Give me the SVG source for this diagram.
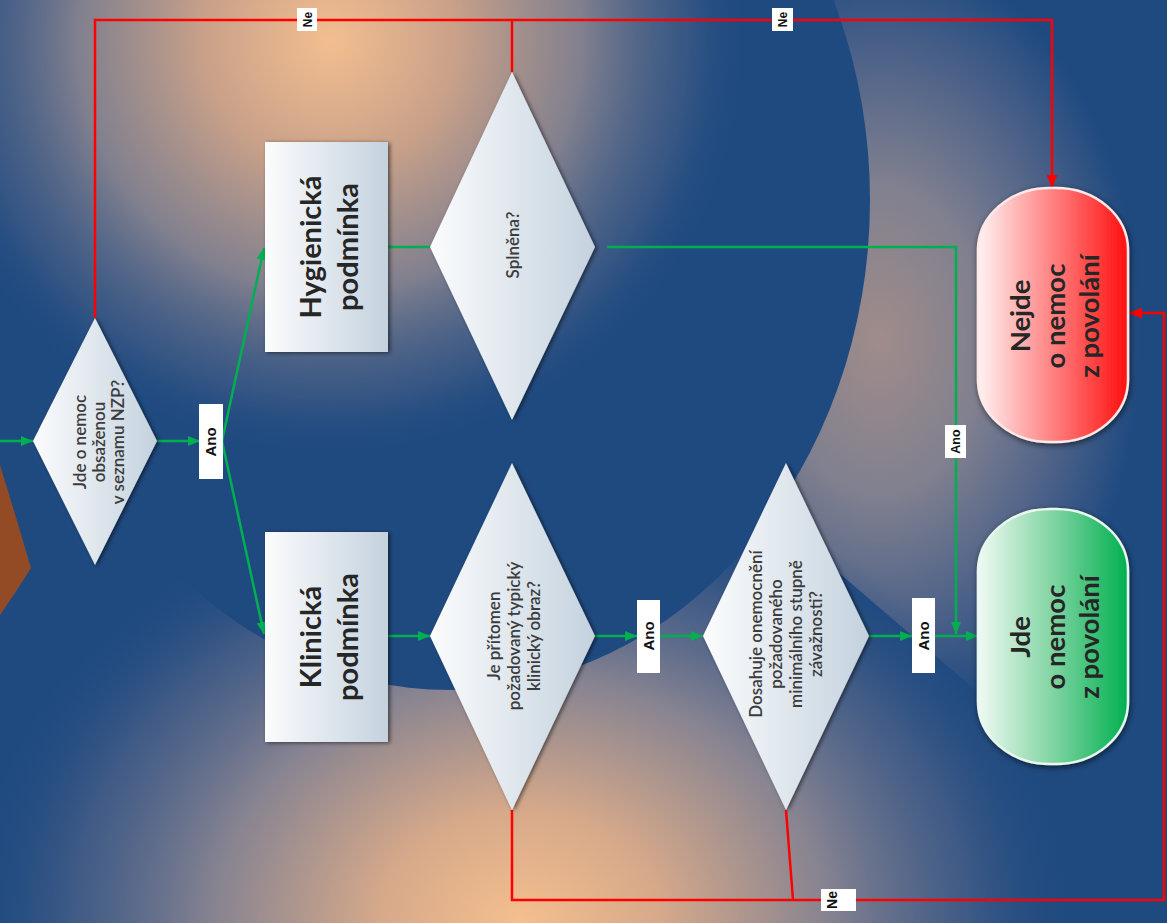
<svg xmlns="http://www.w3.org/2000/svg" width="1167" height="923" viewBox="0 0 1167 923">
<defs>
<style>
.box{fill:url(#gBox);filter:url(#sh);}
.dia{fill:url(#gBox);filter:url(#sh);}
.t-big{font-family:Lato,"Open Sans","Liberation Sans",sans-serif;font-weight:700;font-size:29px;fill:#262626;text-anchor:middle;}
.t-term{font-family:Lato,"Open Sans","Liberation Sans",sans-serif;font-weight:700;font-size:27.5px;fill:#262626;text-anchor:middle;}
.t-dia{font-family:Lato,"Open Sans","Liberation Sans",sans-serif;font-weight:600;font-size:17px;fill:#3c3c3c;text-anchor:middle;}
.t-lbl{font-family:"Liberation Sans",Arial,sans-serif;font-weight:700;fill:#111;text-anchor:middle;}
.lbl{fill:#ffffff;}
.g{fill:none;stroke:#00b050;stroke-width:2.5;}
.r{fill:none;stroke:#ff0000;stroke-width:2.5;}
</style>
<linearGradient id="gBox" x1="0" y1="0" x2="1" y2="0">
<stop offset="0" stop-color="#fbfcfd"/>
<stop offset="1" stop-color="#c4d2de"/>
</linearGradient>
<linearGradient id="gRed" x1="0" y1="0" x2="1" y2="0">
<stop offset="0" stop-color="#fff2f2"/>
<stop offset="0.5" stop-color="#ff8080"/>
<stop offset="1" stop-color="#ff0f0f"/>
</linearGradient>
<linearGradient id="gGreen" x1="0" y1="0" x2="1" y2="0">
<stop offset="0" stop-color="#f0faf3"/>
<stop offset="0.5" stop-color="#80d4a2"/>
<stop offset="1" stop-color="#00b050"/>
</linearGradient>
<radialGradient id="bgTop" gradientUnits="userSpaceOnUse" cx="330" cy="40" r="420">
<stop offset="0" stop-color="#f3be90"/>
<stop offset="0.3" stop-color="#c9a189"/>
<stop offset="0.6" stop-color="#8c8690" stop-opacity="0.9"/>
<stop offset="0.85" stop-color="#4f6388" stop-opacity="0.5"/>
<stop offset="1" stop-color="#1f4a80" stop-opacity="0"/>
</radialGradient>
<radialGradient id="bgBot" gradientUnits="userSpaceOnUse" cx="0" cy="0" r="1" gradientTransform="translate(520,923) scale(560,450)">
<stop offset="0" stop-color="#f5bf8e"/>
<stop offset="0.25" stop-color="#d6a98a"/>
<stop offset="0.55" stop-color="#868391"/>
<stop offset="0.8" stop-color="#4a6088" stop-opacity="0.75"/>
<stop offset="1" stop-color="#1f4a80" stop-opacity="0"/>
</radialGradient>
<radialGradient id="bgBand" gradientUnits="userSpaceOnUse" cx="0" cy="0" r="1" gradientTransform="translate(880,340) scale(260,390)">
<stop offset="0" stop-color="#a08c8a"/>
<stop offset="0.4" stop-color="#80808f"/>
<stop offset="0.75" stop-color="#4a6088"/>
<stop offset="1" stop-color="#1f4a80"/>
</radialGradient>
<filter id="sh" x="-20%" y="-20%" width="140%" height="140%">
<feDropShadow dx="2" dy="1" stdDeviation="2" flood-color="#000" flood-opacity="0.55"/>
</filter>
<filter id="shT" x="-20%" y="-20%" width="140%" height="140%">
<feDropShadow dx="1" dy="2" stdDeviation="3" flood-color="#000" flood-opacity="0.6"/>
</filter>
<marker id="aG" viewBox="0 0 12 10" refX="12" refY="5" markerWidth="12" markerHeight="10" markerUnits="userSpaceOnUse" orient="auto">
<path d="M0,0 L12,5 L0,10 Z" fill="#00b050"/>
</marker>
<marker id="aR" viewBox="0 0 12 10" refX="12" refY="5" markerWidth="13" markerHeight="11" markerUnits="userSpaceOnUse" orient="auto">
<path d="M0,0 L12,5 L0,10 Z" fill="#ff0000"/>
</marker>
</defs>

<g id="background">
<rect x="0" y="0" width="1167" height="923" fill="#1f4a80"/>
<path d="M700,-10 L1180,-10 L1180,870 L980,694 L760,505 Z" fill="url(#bgBand)"/>
<rect x="0" y="0" width="1167" height="923" fill="url(#bgBot)"/>
<ellipse cx="450" cy="200" rx="420" ry="490" fill="#1f4a80"/>
<rect x="0" y="0" width="1167" height="923" fill="url(#bgTop)"/>
<path d="M0,465 Q14,510 31,568 Q16,592 0,615 Z" fill="#924b25"/>
</g>

<g id="connectors">
<path class="g" d="M0,441 L33,441" marker-end="url(#aG)"/>
<path class="g" d="M157,441 L200,441" marker-end="url(#aG)"/>
<path class="g" d="M222,441 L264,248" marker-end="url(#aG)"/>
<path class="g" d="M222,441 L264,634" marker-end="url(#aG)"/>
<path class="g" d="M388,247 L430,247"/>
<path class="g" d="M388,636 L430,636" marker-end="url(#aG)"/>
<path class="g" d="M595,636 L637,636" marker-end="url(#aG)"/>
<path class="g" d="M660,636 L703,636" marker-end="url(#aG)"/>
<path class="g" d="M869,636 L912,636" marker-end="url(#aG)"/>
<path class="g" d="M935,636 L978,636" marker-end="url(#aG)"/>
<path class="g" d="M607,247 L956,247 L956,634" marker-end="url(#aG)"/>
<path class="r" d="M95,318 L95,20 L1052,20 L1052,188" marker-end="url(#aR)"/>
<path class="r" d="M512,72 L512,20"/>
<path class="r" d="M512,810 L512,900 L1164,900 L1164,313 L1129,313" marker-end="url(#aR)"/>
<path class="r" d="M786,810 L793,900"/>
<g id="label-ne1"><rect class="lbl" x="297" y="8" width="20" height="23"/><text class="t-lbl" font-size="12" transform="rotate(-90)" x="-19.5" y="311.5">Ne</text></g>
<g id="label-ne2"><rect class="lbl" x="772" y="8" width="21" height="23"/><text class="t-lbl" font-size="12" transform="rotate(-90)" x="-19.5" y="787">Ne</text></g>
<g id="label-ne3"><rect class="lbl" x="821" y="889" width="35" height="22"/><text class="t-lbl" font-size="14" transform="rotate(-90)" x="-900" y="837">Ne</text></g>
<g id="label-ano1"><rect class="lbl" x="199" y="404" width="24" height="75"/><text class="t-lbl" font-size="15" transform="rotate(-90)" x="-442" y="216">Ano</text></g>
<g id="label-ano2"><rect class="lbl" x="637" y="600" width="23" height="73"/><text class="t-lbl" font-size="15" transform="rotate(-90)" x="-636" y="654">Ano</text></g>
<g id="label-ano3"><rect class="lbl" x="912" y="598" width="23" height="75"/><text class="t-lbl" font-size="15" transform="rotate(-90)" x="-636" y="929">Ano</text></g>
<g id="label-ano4"><rect class="lbl" x="945" y="425" width="21" height="33"/><text class="t-lbl" font-size="12.5" transform="rotate(-90)" x="-441.5" y="960">Ano</text></g>
</g>

<g id="node-nzp">
<polygon class="dia" points="95,318 157,441 95,565 33,441"/>
<text class="t-dia" font-size="15.5" transform="rotate(-90)"><tspan x="-442" y="86">Jde o nemoc</tspan><tspan x="-442" y="105">obsaženou</tspan><tspan x="-442" y="124">v seznamu NZP?</tspan></text>
</g>

<g id="node-hygienicka">
<rect class="box" x="265" y="142" width="123" height="210"/>
<text class="t-big" transform="rotate(-90)"><tspan x="-247" y="321">Hygienická</tspan><tspan x="-247" y="358">podmínka</tspan></text>
</g>

<g id="node-klinicka">
<rect class="box" x="265" y="532" width="123" height="210"/>
<text class="t-big" transform="rotate(-90)"><tspan x="-637" y="321">Klinická</tspan><tspan x="-637" y="358">podmínka</tspan></text>
</g>

<g id="node-splnena">
<polygon class="dia" points="512,72 595,247 512,420 430,247"/>
<text class="t-dia" font-size="15" transform="rotate(-90)" x="-245" y="519">Splněna?</text>
</g>

<g id="node-pritomen">
<polygon class="dia" points="512,463 595,636 512,810 430,636"/>
<text class="t-dia" transform="rotate(-90)"><tspan x="-636" y="500">Je přítomen</tspan><tspan x="-636" y="520">požadovaný typický</tspan><tspan x="-636" y="540">klinický obraz?</tspan></text>
</g>

<g id="node-dosahuje">
<polygon class="dia" points="786,463 869,636 786,810 703,636"/>
<text class="t-dia" transform="rotate(-90)"><tspan x="-634" y="762">Dosahuje onemocnění</tspan><tspan x="-634" y="782">požadovaného</tspan><tspan x="-634" y="802">minimálního stupně</tspan><tspan x="-634" y="822">závažnosti?</tspan></text>
</g>

<g id="node-nejde">
<rect x="978" y="188" width="150" height="254" rx="72" ry="62" fill="url(#gRed)" stroke="#ffe8e8" stroke-width="2.5" filter="url(#shT)"/>
<text class="t-term" transform="rotate(-90)"><tspan x="-316" y="1030">Nejde</tspan><tspan x="-316" y="1065">o nemoc</tspan><tspan x="-316" y="1099">z povolání</tspan></text>
</g>

<g id="node-jde">
<rect x="978" y="509" width="150" height="255" rx="72" ry="62" fill="url(#gGreen)" stroke="#e8f8ee" stroke-width="2.5" filter="url(#shT)"/>
<text class="t-term" transform="rotate(-90)"><tspan x="-637" y="1030">Jde</tspan><tspan x="-637" y="1065">o nemoc</tspan><tspan x="-637" y="1099">z povolání</tspan></text>
</g>
</svg>
